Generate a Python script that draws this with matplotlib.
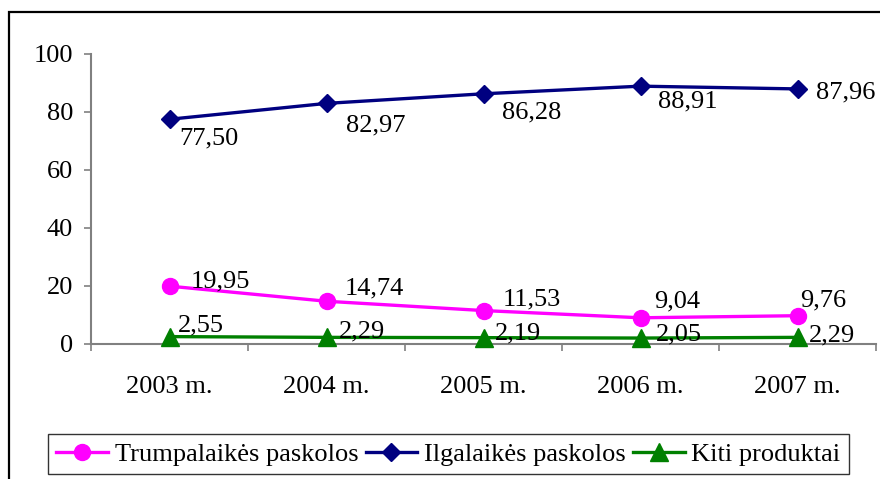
import matplotlib
matplotlib.use("Agg")
import matplotlib.pyplot as plt
from matplotlib.patches import Rectangle

# Data
years = ["2003 m.", "2004 m.", "2005 m.", "2006 m.", "2007 m."]
trumpalaikes = [19.95, 14.74, 11.53, 9.04, 9.76]
ilgalaikes = [77.50, 82.97, 86.28, 88.91, 87.96]
kiti = [2.55, 2.29, 2.19, 2.05, 2.29]
series_names = ["Trumpalaikės paskolos", "Ilgalaikės paskolos", "Kiti produktai"]
y_ticks = [0, 20, 40, 60, 80, 100]

# Label offsets in pixels (dx right, dy up, to the digits' centre)
off_trump = [(21, 7), (18, 16), (19, 14), (14, 19), (3, 18)]
off_ilg = [(10, -17), (19, -19), (18, -16), (17, -13), (18, -1)]
off_kiti = [(8, 14), (12, 9), (11, 7), (15, 6), (11, 5)]

FS = 19
plt.rcParams["font.family"] = ["Liberation Serif", "DejaVu Serif"]

fig = plt.figure(figsize=(8.8, 4.79), dpi=100)
ax = fig.add_axes([91 / 880, 135 / 479, 785 / 880, 290 / 479])

x = list(range(len(years)))
styles = [
    (trumpalaikes, "#FF00FF", "o", 11.5, off_trump),
    (ilgalaikes, "#000080", "D", 9.0, off_ilg),
    (kiti, "#008000", "^", 13.0, off_kiti),
]
handles = []
for (vals, col, mk, ms, offs), name in zip(styles, series_names):
    (h,) = ax.plot(x, vals, color=col, lw=2.4, marker=mk, ms=ms,
                   markerfacecolor=col, markeredgecolor=col, label=name,
                   clip_on=False, zorder=3)
    handles.append(h)
    for xi, v, (dx, dy) in zip(x, vals, offs):
        ax.annotate(f"{v:.2f}".replace(".", ","), (xi, v),
                    xytext=(dx, dy - 8.7), textcoords="offset pixels",
                    ha="left", va="baseline", fontsize=FS, color="black",
                    zorder=4)

ax.set_xlim(-0.5, len(years) - 0.5)
ax.set_ylim(0, 100)

# Category axis: tick marks at boundaries, labels at centres
ax.set_xticks([i - 0.5 for i in range(len(years) + 1)])
ax.set_xticklabels([])
ax.set_xticks(x, minor=True)
ax.set_xticklabels(years, minor=True, fontsize=FS)
ax.tick_params(axis="x", which="major", direction="out", length=5,
               width=1.2, color="#808080")
ax.tick_params(axis="x", which="minor", length=0, pad=23)

ax.set_yticks(y_ticks)
ax.set_yticklabels([str(t) for t in y_ticks], fontsize=FS)
ax.tick_params(axis="y", direction="out", length=5, width=1.2,
               color="#808080", pad=8)

for side in ("top", "right"):
    ax.spines[side].set_visible(False)
for side in ("left", "bottom"):
    ax.spines[side].set_color("#808080")
    ax.spines[side].set_linewidth(1.5)

leg = fig.legend(handles=handles, labels=series_names, loc="center",
                 bbox_to_anchor=(448.5 / 880, 25 / 479), ncol=3,
                 fontsize=FS, frameon=True, fancybox=False, shadow=False,
                 handlelength=1.95, handletextpad=0.26, columnspacing=0.28,
                 borderpad=0.3, borderaxespad=0.0)
leg.get_frame().set_edgecolor("black")
leg.get_frame().set_linewidth(1.0)

# Outer chart border
fig.add_artist(Rectangle((9 / 880, -0.1), 1.2, 1.1 - 12 / 479,
                         transform=fig.transFigure, fill=False,
                         edgecolor="black", linewidth=1.6))

fig.savefig("out.png", dpi=100)
